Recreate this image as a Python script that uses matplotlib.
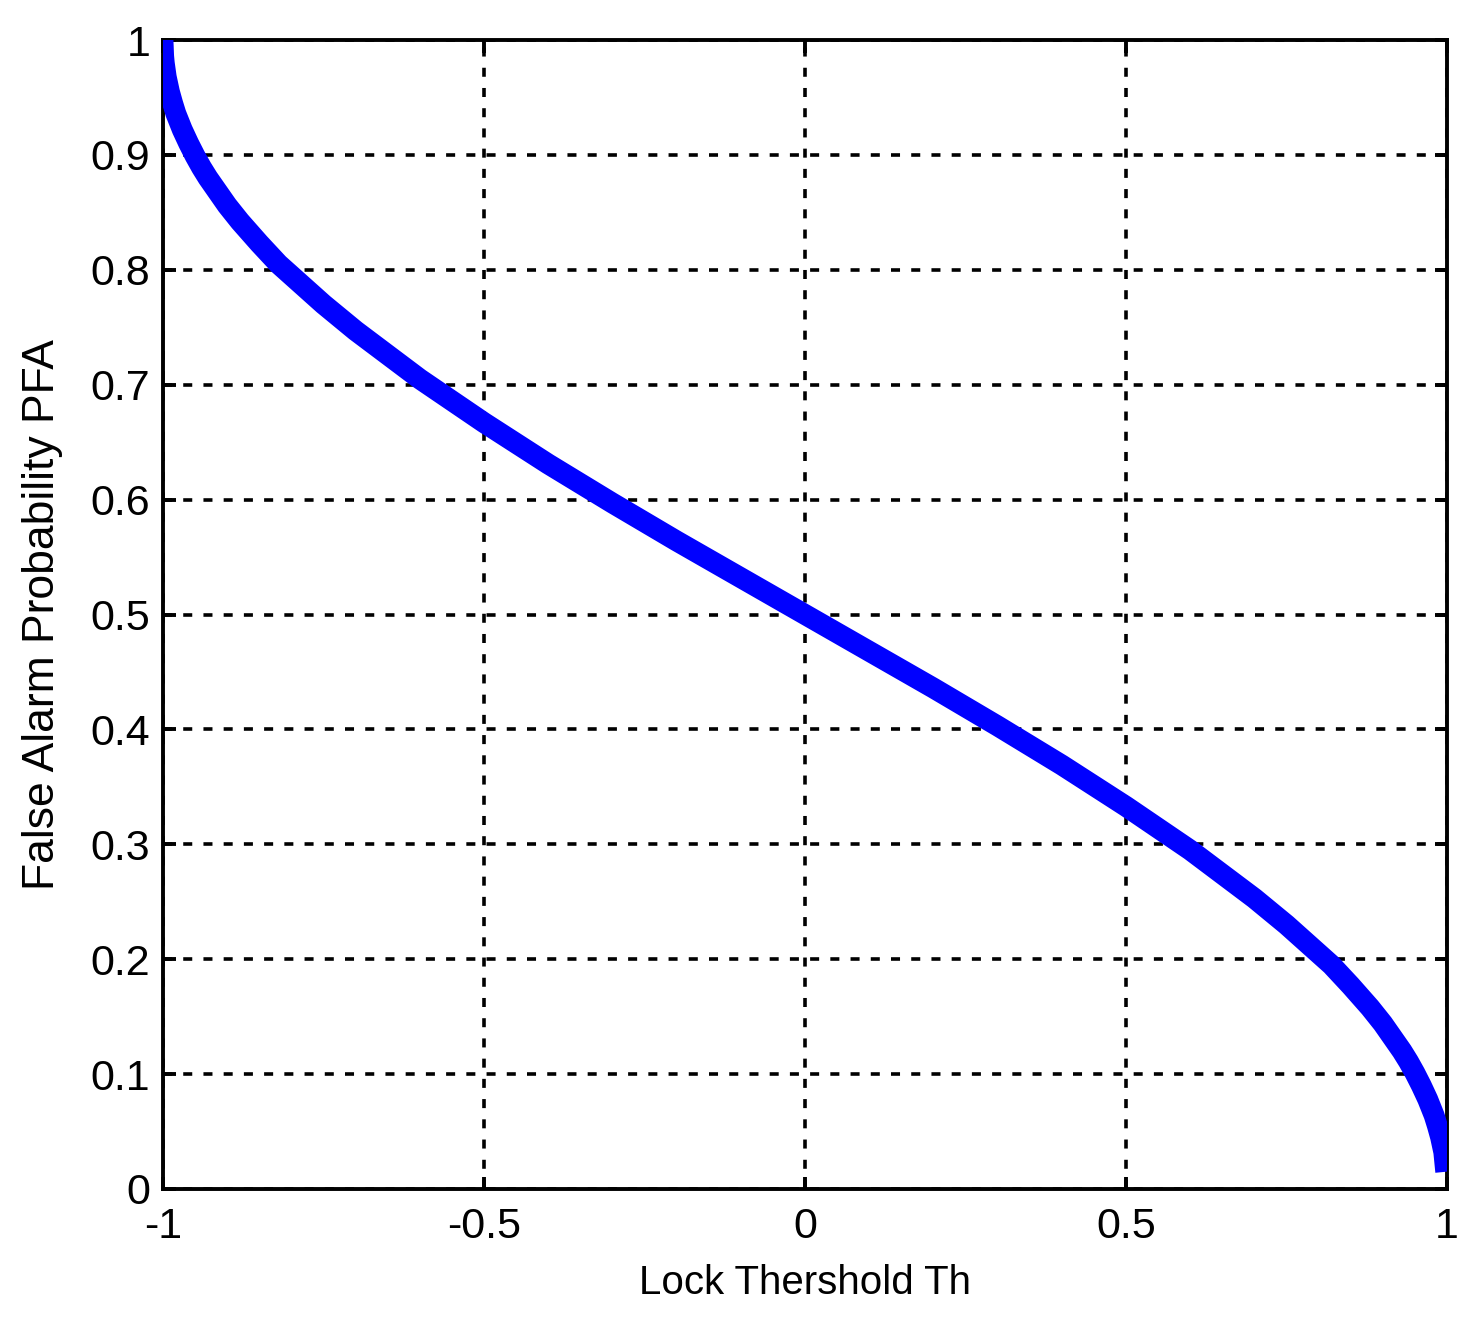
import matplotlib
matplotlib.use("Agg")
import matplotlib.pyplot as plt

plt.rcParams['font.family'] = ['Liberation Sans', 'DejaVu Sans']

# lock threshold vs false alarm probability
th = [-1.0, -0.999, -0.998, -0.995, -0.99, -0.985, -0.98, -0.97, -0.96, -0.95,
      -0.94, -0.93, -0.92, -0.9, -0.88, -0.85, -0.82, -0.8, -0.75, -0.7,
      -0.65, -0.6, -0.55, -0.5, -0.4, -0.3, -0.2, -0.1, 0.0,
      0.1, 0.2, 0.3, 0.4, 0.5, 0.55, 0.6, 0.65, 0.7, 0.75, 0.8, 0.82,
      0.85, 0.88, 0.9, 0.92, 0.93, 0.94, 0.95, 0.96, 0.97, 0.98, 0.985,
      0.99, 0.995, 0.998]
pfa = [1.0, 0.986, 0.980, 0.968, 0.955, 0.945, 0.936, 0.922, 0.910, 0.899,
       0.889, 0.880, 0.872, 0.856, 0.842, 0.823, 0.805, 0.795, 0.770, 0.747,
       0.726, 0.705, 0.686, 0.667, 0.631, 0.597, 0.564, 0.532, 0.500,
       0.468, 0.436, 0.403, 0.369, 0.333, 0.314, 0.295, 0.274, 0.253, 0.230, 0.205, 0.195,
       0.177, 0.158, 0.144, 0.128, 0.120, 0.111, 0.101, 0.090, 0.078, 0.064, 0.055,
       0.045, 0.032, 0.015]

xticks = [-1, -0.5, 0, 0.5, 1]
xtick_labels = ['-1', '-0.5', '0', '0.5', '1']
yticks = [0, 0.1, 0.2, 0.3, 0.4, 0.5, 0.6, 0.7, 0.8, 0.9, 1]
ytick_labels = ['0', '0.1', '0.2', '0.3', '0.4', '0.5', '0.6', '0.7', '0.8', '0.9', '1']

fig = plt.figure(figsize=(14.79, 13.2), dpi=100)
ax = fig.add_axes([163/1479, 1 - 1189/1320, (1447-163)/1479, (1189-40)/1320])

ax.plot(th, pfa, color='#0000ff', linewidth=15, solid_capstyle='butt',
        solid_joinstyle='round', zorder=3)

ax.set_xlim(-1, 1)
ax.set_ylim(0, 1)
ax.set_xticks(xticks)
ax.set_xticklabels(xtick_labels)
ax.set_yticks(yticks)
ax.set_yticklabels(ytick_labels)

ax.grid(True, color='black', linewidth=2.6, linestyle=(0, (2.5, 3.1)))
ax.set_axisbelow(True)
for s in ax.spines.values():
    s.set_linewidth(2.8)
ax.tick_params(direction='in', length=9, width=2.8, top=True, right=True,
               labelsize=31)
ax.tick_params(axis='x', pad=13)
ax.tick_params(axis='y', pad=9)

ax.set_xlabel('Lock Thershold Th', fontsize=29, labelpad=12)
ax.set_ylabel('False Alarm Probability PFA', fontsize=32, labelpad=20)

fig.savefig('out.png', dpi=100)
